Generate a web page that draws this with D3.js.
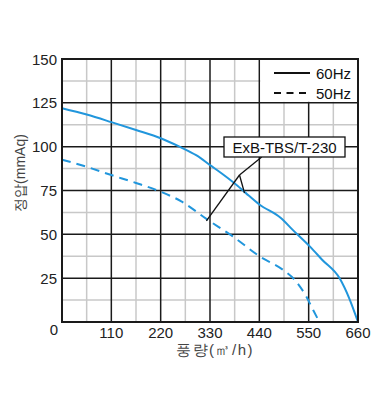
<!DOCTYPE html>
<html><head><meta charset="utf-8">
<script src="https://cdn.jsdelivr.net/npm/d3@7"></script>
<style>
body{margin:0;background:#fff;}
text{font-family:"Liberation Sans",Arial,sans-serif;}
</style></head>
<body><svg id="c" width="384" height="418"></svg>
<script>
const xTicks = [0,110,220,330,440,550,660];
const yTicks = [25,50,75,100,125,150];
const q60 = [0,55,110,165,220,262,300,330,360,390,410,440,488,515,553,580,620,640,660];
const p60 = [121.9,118.3,114,109.5,104.8,100,95,89.5,84,78,73.5,67,59.3,52.4,43,35.5,24.5,13.8,0];
const q50 = [0,55,110,165,220,266,322,381,441,493,519,545,560,574];
const p50 = [92.6,88.5,83.8,79.3,74.3,68.8,58.8,48.8,37.4,29.7,24,14.4,6.8,0];
const legendLabels = ["60Hz","50Hz"];
const modelLabel = "ExB-TBS/T-230";

const svg = d3.select("#c");
const L=62,R=358,T=59,B=322;
const x = d3.scaleLinear().domain([0,660]).range([L,R]);
const y = d3.scaleLinear().domain([0,150]).range([B,T]);
const blue = "#2196dc";

// minor grid
const minorX = d3.range(55,660,110);
const minorY = d3.range(12.5,150,25);
svg.append("g").selectAll("line").data(minorX).join("line")
  .attr("x1",d=>x(d)).attr("x2",d=>x(d)).attr("y1",T).attr("y2",B)
  .attr("stroke","#c8c8c8").attr("stroke-width",1.5);
svg.append("g").selectAll("line").data(minorY).join("line")
  .attr("y1",d=>y(d)).attr("y2",d=>y(d)).attr("x1",L).attr("x2",R)
  .attr("stroke","#c8c8c8").attr("stroke-width",1.5);
// major grid
svg.append("g").selectAll("line").data(xTicks.slice(1,-1)).join("line")
  .attr("x1",d=>x(d)).attr("x2",d=>x(d)).attr("y1",T).attr("y2",B)
  .attr("stroke","#1a1a1a").attr("stroke-width",1.5);
svg.append("g").selectAll("line").data(yTicks.slice(0,-1)).join("line")
  .attr("y1",d=>y(d)).attr("y2",d=>y(d)).attr("x1",L).attr("x2",R)
  .attr("stroke","#1a1a1a").attr("stroke-width",1.5);

// legend white area
svg.append("rect").attr("x",x(440)+1).attr("y",y(150)).attr("width",x(660)-x(440)-1).attr("height",y(125)-y(150)-1).attr("fill","#fff");

// curves
const line = d3.line().x(d=>x(d[0])).y(d=>y(d[1])).curve(d3.curveMonotoneX);
svg.append("path").datum(q60.map((q,i)=>[q,p60[i]])).attr("d",line)
  .attr("fill","none").attr("stroke",blue).attr("stroke-width",2);
svg.append("path").datum(q50.map((q,i)=>[q,p50[i]])).attr("d",line)
  .attr("fill","none").attr("stroke",blue).attr("stroke-width",2).attr("stroke-dasharray","9,6");

// border
svg.append("rect").attr("x",L).attr("y",T).attr("width",R-L).attr("height",B-T)
  .attr("fill","none").attr("stroke","#1a1a1a").attr("stroke-width",2);

// legend
svg.append("line").attr("x1",274).attr("x2",310).attr("y1",73).attr("y2",73).attr("stroke","#111").attr("stroke-width",2);
svg.append("line").attr("x1",274).attr("x2",310).attr("y1",93).attr("y2",93).attr("stroke","#111").attr("stroke-width",2).attr("stroke-dasharray","7,5.5");
svg.append("text").attr("x",316).attr("y",79).attr("font-size",15).attr("fill","#111").text(legendLabels[0]);
svg.append("text").attr("x",316).attr("y",99).attr("font-size",15).attr("fill","#111").text(legendLabels[1]);

// annotation leaders
const apex=[239.5,175];
svg.append("g").selectAll("line").data([[261.7,157],[x(322),y(58.8)+2],[244.5,193]]).join("line")
  .attr("x1",apex[0]).attr("y1",apex[1]).attr("x2",d=>d[0]).attr("y2",d=>d[1])
  .attr("stroke","#111").attr("stroke-width",1.3);
svg.append("rect").attr("x",224).attr("y",137).attr("width",121).attr("height",20)
  .attr("fill","#fff").attr("stroke","#111").attr("stroke-width",1.3);
svg.append("text").attr("x",284.5).attr("y",152.5).attr("text-anchor","middle").attr("font-size",15).attr("fill","#111").text(modelLabel);

// tick labels
svg.append("g").selectAll("text").data(yTicks).join("text")
  .attr("x",57).attr("y",d=>y(d)+5.5).attr("text-anchor","end").attr("font-size",15).attr("fill","#222").text(d=>d);
svg.append("g").selectAll("text").data(xTicks.slice(1)).join("text")
  .attr("x",d=>x(d)).attr("y",338).attr("text-anchor","middle").attr("font-size",15).attr("fill","#222").text(d=>d);
svg.append("text").attr("x",54).attr("y",335).attr("text-anchor","middle").attr("font-size",15).attr("fill","#222").text(0);

// axis titles
svg.append("text").attr("x",215).attr("y",355).attr("text-anchor","middle").attr("font-size",15).attr("letter-spacing",1.5).attr("fill","#444")
  .attr("font-family","'Noto Sans CJK KR',sans-serif").text("풍량(㎥/h)");
svg.append("text").attr("transform","translate(25,173) rotate(-90)").attr("text-anchor","middle").attr("font-size",14).attr("fill","#444")
  .attr("font-family","'Noto Sans CJK KR',sans-serif").text("정압(mmAq)");
</script></body></html>
